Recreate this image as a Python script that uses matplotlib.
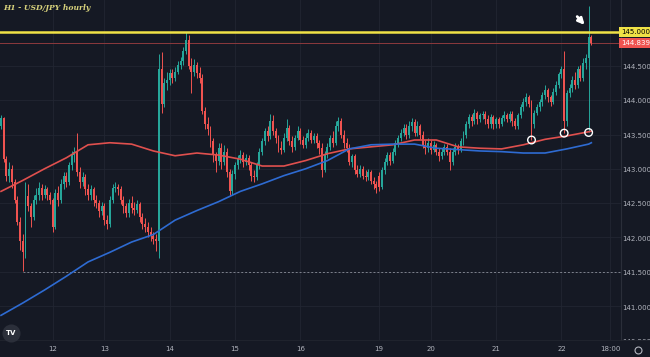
import matplotlib.pyplot as plt
from matplotlib.lines import Line2D
import numpy as np

# hourly candles, USD/JPY (index 0 = first visible bar)
opens = [143.62, 143.74, 143.14, 142.90, 143.00, 142.80, 142.55, 142.22, 141.95, 141.78,
         142.60, 142.45, 142.30, 142.55, 142.62, 142.72, 142.62, 142.70, 142.62, 142.55,
         142.15, 142.65, 142.55, 142.78, 142.90, 142.80, 143.05, 143.20, 143.25, 142.95,
         142.80, 142.88, 142.70, 142.62, 142.70, 142.55, 142.50, 142.38, 142.45, 142.25,
         142.20, 142.55, 142.72, 142.74, 142.70, 142.55, 142.45, 142.35, 142.50, 142.42,
         142.40, 142.48, 142.30, 142.20, 142.15, 142.08, 142.02, 141.98, 141.95, 144.45,
         143.95, 144.25, 144.30, 144.40, 144.32, 144.42, 144.52, 144.58, 144.72, 144.88,
         144.50, 144.42, 144.52, 144.40, 144.32, 143.85, 143.65, 143.58, 143.40, 143.20,
         143.12, 143.30, 143.10, 143.25, 142.95, 142.68, 142.92, 143.05, 143.15, 143.20,
         143.10, 143.15, 143.05, 142.90, 142.88, 143.05, 143.25, 143.40, 143.55, 143.48,
         143.70, 143.55, 143.45, 143.30, 143.28, 143.45, 143.60, 143.40, 143.32, 143.45,
         143.55, 143.42, 143.35, 143.45, 143.52, 143.42, 143.48, 143.38, 143.30, 142.98,
         143.20, 143.32, 143.45, 143.38, 143.62, 143.70, 143.50, 143.38, 143.30, 143.10,
         143.18, 142.98, 142.92, 143.00, 142.90, 142.88, 142.95, 142.82, 142.78, 142.90,
         142.74, 142.98, 143.10, 143.20, 143.12, 143.25, 143.38, 143.45, 143.52, 143.60,
         143.50, 143.62, 143.68, 143.52, 143.62, 143.50, 143.35, 143.30, 143.38, 143.28,
         143.35, 143.25, 143.18, 143.25, 143.32, 143.25, 143.10, 143.25, 143.32, 143.28,
         143.40, 143.50, 143.65, 143.75, 143.70, 143.82, 143.72, 143.78, 143.80, 143.72,
         143.65, 143.75, 143.65, 143.72, 143.66, 143.74, 143.78, 143.72, 143.80, 143.70,
         143.62, 143.78, 143.90, 143.98, 144.05, 143.95, 143.65, 143.82, 143.90, 143.98,
         144.08, 144.15, 144.05, 143.98, 144.12, 144.22, 144.38, 144.45, 143.70, 144.10,
         144.18, 144.30, 144.22, 144.45, 144.32, 144.55, 144.62, 144.92]
highs = [143.78, 143.76, 143.18, 143.10, 143.05, 142.85, 142.60, 142.30, 142.05, 142.80,
         142.78, 142.50, 142.62, 142.72, 142.80, 142.78, 142.76, 142.74, 142.66, 142.58,
         142.70, 142.75, 142.85, 142.95, 142.96, 143.10, 143.26, 143.32, 143.52, 143.02,
         142.95, 142.92, 142.78, 142.76, 142.74, 142.62, 142.55, 142.52, 142.50, 142.32,
         142.60, 142.78, 142.80, 142.78, 142.75, 142.60, 142.50, 142.56, 142.60, 142.52,
         142.55, 142.52, 142.35, 142.28, 142.22, 142.15, 142.08, 142.05, 144.68, 144.70,
         144.32, 144.42, 144.45, 144.45, 144.48, 144.57, 144.63, 144.78, 144.99, 144.96,
         144.62, 144.60, 144.56, 144.48, 144.38, 143.90, 143.75, 143.62, 143.45, 143.25,
         143.38, 143.38, 143.35, 143.30, 143.00, 142.98, 143.10, 143.20, 143.28, 143.25,
         143.22, 143.20, 143.10, 142.98, 143.10, 143.30, 143.45, 143.60, 143.62, 143.80,
         143.78, 143.60, 143.50, 143.40, 143.52, 143.72, 143.64, 143.48, 143.50, 143.62,
         143.60, 143.48, 143.52, 143.58, 143.56, 143.52, 143.52, 143.42, 143.38, 143.26,
         143.38, 143.50, 143.55, 143.70, 143.75, 143.74, 143.56, 143.45, 143.36, 143.22,
         143.22, 143.05, 143.06, 143.04, 142.98, 143.00, 142.98, 142.88, 142.82, 142.95,
         143.02, 143.15, 143.25, 143.25, 143.30, 143.42, 143.50, 143.58, 143.66, 143.65,
         143.70, 143.74, 143.72, 143.70, 143.66, 143.55, 143.42, 143.45, 143.42, 143.40,
         143.38, 143.30, 143.30, 143.36, 143.36, 143.30, 143.30, 143.38, 143.36, 143.45,
         143.55, 143.70, 143.80, 143.80, 143.87, 143.85, 143.82, 143.85, 143.84, 143.78,
         143.80, 143.78, 143.76, 143.76, 143.78, 143.84, 143.82, 143.85, 143.84, 143.74,
         143.82, 143.95, 144.03, 144.10, 144.08, 144.00, 143.86, 143.95, 144.02, 144.12,
         144.22, 144.18, 144.08, 144.18, 144.28, 144.42, 144.50, 144.72, 144.15, 144.24,
         144.35, 144.42, 144.50, 144.52, 144.62, 144.68, 145.38, 144.96]
lows = [143.58, 143.10, 142.82, 142.80, 142.72, 142.50, 142.18, 141.82, 141.51, 141.70,
        142.38, 142.15, 142.25, 142.48, 142.55, 142.55, 142.58, 142.55, 142.48, 142.08,
        142.12, 142.45, 142.50, 142.70, 142.74, 142.76, 142.98, 143.10, 142.90, 142.72,
        142.75, 142.62, 142.55, 142.55, 142.46, 142.42, 142.30, 142.32, 142.18, 142.12,
        142.15, 142.50, 142.66, 142.62, 142.48, 142.36, 142.30, 142.30, 142.35, 142.32,
        142.35, 142.22, 142.12, 142.08, 142.00, 141.95, 141.90, 141.80, 141.70, 143.82,
        143.90, 144.15, 144.22, 144.25, 144.28, 144.38, 144.45, 144.52, 144.68, 144.45,
        144.10, 144.35, 144.33, 144.25, 143.80, 143.58, 143.50, 143.32, 143.10, 142.95,
        143.05, 143.00, 143.05, 142.88, 142.60, 142.62, 142.85, 143.00, 143.08, 143.02,
        143.05, 142.98, 142.82, 142.80, 142.84, 143.00, 143.20, 143.35, 143.40, 143.44,
        143.50, 143.38, 143.25, 143.22, 143.25, 143.40, 143.35, 143.25, 143.28, 143.42,
        143.36, 143.30, 143.30, 143.40, 143.38, 143.38, 143.30, 143.22, 142.88, 142.95,
        143.15, 143.28, 143.32, 143.35, 143.55, 143.45, 143.30, 143.25, 143.05, 143.02,
        142.92, 142.88, 142.88, 142.85, 142.82, 142.84, 142.78, 142.70, 142.64, 142.68,
        142.70, 142.92, 143.05, 143.05, 143.08, 143.20, 143.32, 143.40, 143.48, 143.44,
        143.45, 143.55, 143.48, 143.48, 143.44, 143.30, 143.22, 143.25, 143.22, 143.24,
        143.20, 143.12, 143.14, 143.20, 143.20, 142.98, 143.05, 143.20, 143.22, 143.25,
        143.35, 143.45, 143.60, 143.62, 143.65, 143.66, 143.68, 143.72, 143.66, 143.60,
        143.60, 143.58, 143.60, 143.60, 143.62, 143.70, 143.68, 143.68, 143.62, 143.58,
        143.58, 143.74, 143.85, 143.92, 143.90, 143.42, 143.60, 143.78, 143.85, 143.92,
        144.02, 143.98, 143.92, 143.94, 144.08, 144.18, 144.32, 143.52, 143.62, 144.05,
        144.12, 144.16, 144.18, 144.28, 144.28, 144.45, 143.53, 144.80]
closes = [143.74, 143.14, 142.90, 143.00, 142.80, 142.55, 142.22, 141.95, 141.78, 142.60,
          142.45, 142.30, 142.55, 142.62, 142.72, 142.62, 142.70, 142.62, 142.55, 142.15,
          142.65, 142.55, 142.78, 142.90, 142.80, 143.05, 143.20, 143.25, 142.95, 142.80,
          142.88, 142.70, 142.62, 142.70, 142.55, 142.50, 142.38, 142.45, 142.25, 142.20,
          142.55, 142.72, 142.74, 142.70, 142.55, 142.45, 142.35, 142.50, 142.42, 142.40,
          142.48, 142.30, 142.20, 142.15, 142.08, 142.02, 141.98, 141.95, 144.45, 143.95,
          144.25, 144.30, 144.40, 144.32, 144.42, 144.52, 144.58, 144.72, 144.88, 144.50,
          144.42, 144.52, 144.40, 144.32, 143.85, 143.65, 143.58, 143.40, 143.20, 143.12,
          143.30, 143.10, 143.25, 142.95, 142.68, 142.92, 143.05, 143.15, 143.20, 143.10,
          143.15, 143.05, 142.90, 142.88, 143.05, 143.25, 143.40, 143.55, 143.48, 143.70,
          143.55, 143.45, 143.30, 143.28, 143.45, 143.60, 143.40, 143.32, 143.45, 143.55,
          143.42, 143.35, 143.45, 143.52, 143.42, 143.48, 143.38, 143.30, 142.98, 143.20,
          143.32, 143.45, 143.38, 143.62, 143.70, 143.50, 143.38, 143.30, 143.10, 143.18,
          142.98, 142.92, 143.00, 142.90, 142.88, 142.95, 142.82, 142.78, 142.72, 142.74,
          142.98, 143.10, 143.20, 143.12, 143.25, 143.38, 143.45, 143.52, 143.60, 143.50,
          143.62, 143.68, 143.52, 143.62, 143.50, 143.35, 143.30, 143.38, 143.28, 143.35,
          143.25, 143.18, 143.25, 143.32, 143.25, 143.10, 143.25, 143.32, 143.28, 143.40,
          143.50, 143.65, 143.75, 143.70, 143.82, 143.72, 143.78, 143.80, 143.72, 143.65,
          143.75, 143.65, 143.72, 143.66, 143.74, 143.78, 143.72, 143.80, 143.70, 143.62,
          143.78, 143.90, 143.98, 144.05, 143.95, 143.65, 143.82, 143.90, 143.98, 144.08,
          144.15, 144.05, 143.98, 144.12, 144.22, 144.38, 144.45, 143.70, 144.10, 144.18,
          144.30, 144.22, 144.45, 144.32, 144.55, 144.62, 144.92, 144.839]

# moving averages read every 8 bars
ma_idx = [0, 8, 16, 24, 32, 40, 48, 56, 64, 72, 80, 88, 96, 104, 112, 120, 128, 136,
          144, 152, 160, 168, 176, 184, 192, 200, 208, 216, 217]
ma_red = [142.67, 142.83, 143.00, 143.16, 143.35, 143.38, 143.36, 143.26, 143.19, 143.23,
          143.20, 143.14, 143.04, 143.04, 143.12, 143.22, 143.29, 143.32, 143.35, 143.42,
          143.42, 143.32, 143.30, 143.29, 143.35, 143.43, 143.48, 143.54, 143.55]
ma_blue = [140.86, 141.04, 141.23, 141.43, 141.64, 141.78, 141.93, 142.04, 142.25, 142.39,
           142.52, 142.67, 142.78, 142.90, 143.00, 143.12, 143.29, 143.35, 143.36, 143.36,
           143.30, 143.28, 143.26, 143.25, 143.23, 143.23, 143.29, 143.36, 143.38]

day_ticks = [19, 38, 62, 86, 110, 139, 158, 182, 206, 224]
day_labels = ['12', '13', '14', '15', '16', '19', '20', '21', '22', '18:00']
price_ticks = [145.0, 144.5, 144.0, 143.5, 143.0, 142.5, 142.0, 141.5, 141.0, 140.5]
level_top = 145.0
level_low = 141.5
low_bar = 8
touch_bars = [195, 207, 216]

BG = '#151924'
GRID = '#222632'
UP = '#26a69a'
DOWN = '#ef5350'
TXT = '#b2b5be'
YEL = '#f0e246'

o = np.array(opens)
h = np.array(highs)
l = np.array(lows)
c = np.array(closes)
idx = np.arange(len(c))

fig = plt.figure(figsize=(6.5, 3.57), dpi=100, facecolor=BG)
ax = fig.add_axes([0, 17/357, 621/650, 340/357])
ax.set_facecolor(BG)
for s in ax.spines.values():
    s.set_visible(False)
ax.set_xlim(-0.37, 227.9)
ax.set_ylim(140.536, 145.464)

ax.set_xticks(day_ticks, day_labels)
ax.set_yticks(price_ticks)
ax.grid(True, color=GRID, linewidth=0.6)
ax.set_axisbelow(True)
ax.tick_params(axis='y', left=False, labelleft=False)
ax.tick_params(axis='x', length=0, labelsize=5, labelcolor=TXT, pad=4)

cols = np.where(c >= o, UP, DOWN)
ax.vlines(idx, l, h, colors=cols, linewidth=0.7, zorder=2)
ax.bar(idx, np.abs(c - o), bottom=np.minimum(o, c), width=0.72, color=cols, linewidth=0, zorder=2)

ax.plot(ma_idx, ma_red, color='#e0504e', linewidth=1.2, zorder=3)
ax.plot(ma_idx, ma_blue, color='#2e6bd2', linewidth=1.2, zorder=3)

ax.axhline(level_top, color=YEL, linewidth=1.8, zorder=4)
ax.axhline(c[-1], color='#8c3a3d', linewidth=0.7, zorder=1)
ax.hlines(level_low, low_bar, 227.9, color='#7d818c', linewidth=0.7, linestyle=(0, (2, 2)), zorder=1)

ax.scatter(touch_bars, l[touch_bars], s=30, facecolors='none', edgecolors='white', linewidths=1.0, zorder=5)
ax.annotate('', xy=(touch_bars[-1] - 0.8, level_top + 0.07), xytext=(-8, 9), textcoords='offset points',
            arrowprops=dict(arrowstyle='-|>', color='white', lw=2.0, mutation_scale=9), zorder=6)

# price scale
pax = fig.add_axes([621/650, 17/357, 29/650, 340/357])
pax.set_facecolor(BG)
pax.set_xlim(0, 1)
pax.set_ylim(140.536, 145.464)
pax.set_xticks([])
pax.set_yticks([])
for s in pax.spines.values():
    s.set_visible(False)
pax.spines['left'].set_visible(True)
pax.spines['left'].set_color('#2a2e39')
for p in price_ticks[1:]:
    pax.text(0.55, p, f'{p:.3f}', ha='center', va='center', fontsize=5, color=TXT, clip_on=True)
pax.axhline(level_top, color=YEL, linewidth=1.8)
pax.text(0.52, level_top, f'{level_top:.3f}', ha='center', va='center', fontsize=5, color='black',
         bbox=dict(boxstyle='square,pad=0.3', fc=YEL, ec='none'))
pax.text(0.52, c[-1], f'{c[-1]:.3f}', ha='center', va='center', fontsize=5, color='white',
         bbox=dict(boxstyle='square,pad=0.3', fc=DOWN, ec='none'))

fig.add_artist(Line2D([0, 1], [17/357, 17/357], color='#22262f', linewidth=0.6))
fig.add_artist(Line2D([638/650], [7/357], marker='o', mfc='none', mec=TXT, ms=5, mew=0.8))
fig.add_artist(Line2D([11/650], [24/357], marker='o', mfc='#2b2f3a', mec='none', ms=13))
fig.text(11/650, 24/357, 'TV', ha='center', va='center', fontsize=5, color='white', weight='bold')

fig.text(3/650, 1 - 8/357, 'H1 - USD/JPY hourly', fontsize=5.5, color='#d8d27c',
         style='italic', weight='bold', family='DejaVu Serif', va='center')

fig.savefig('out.png', dpi=100, facecolor=BG)
